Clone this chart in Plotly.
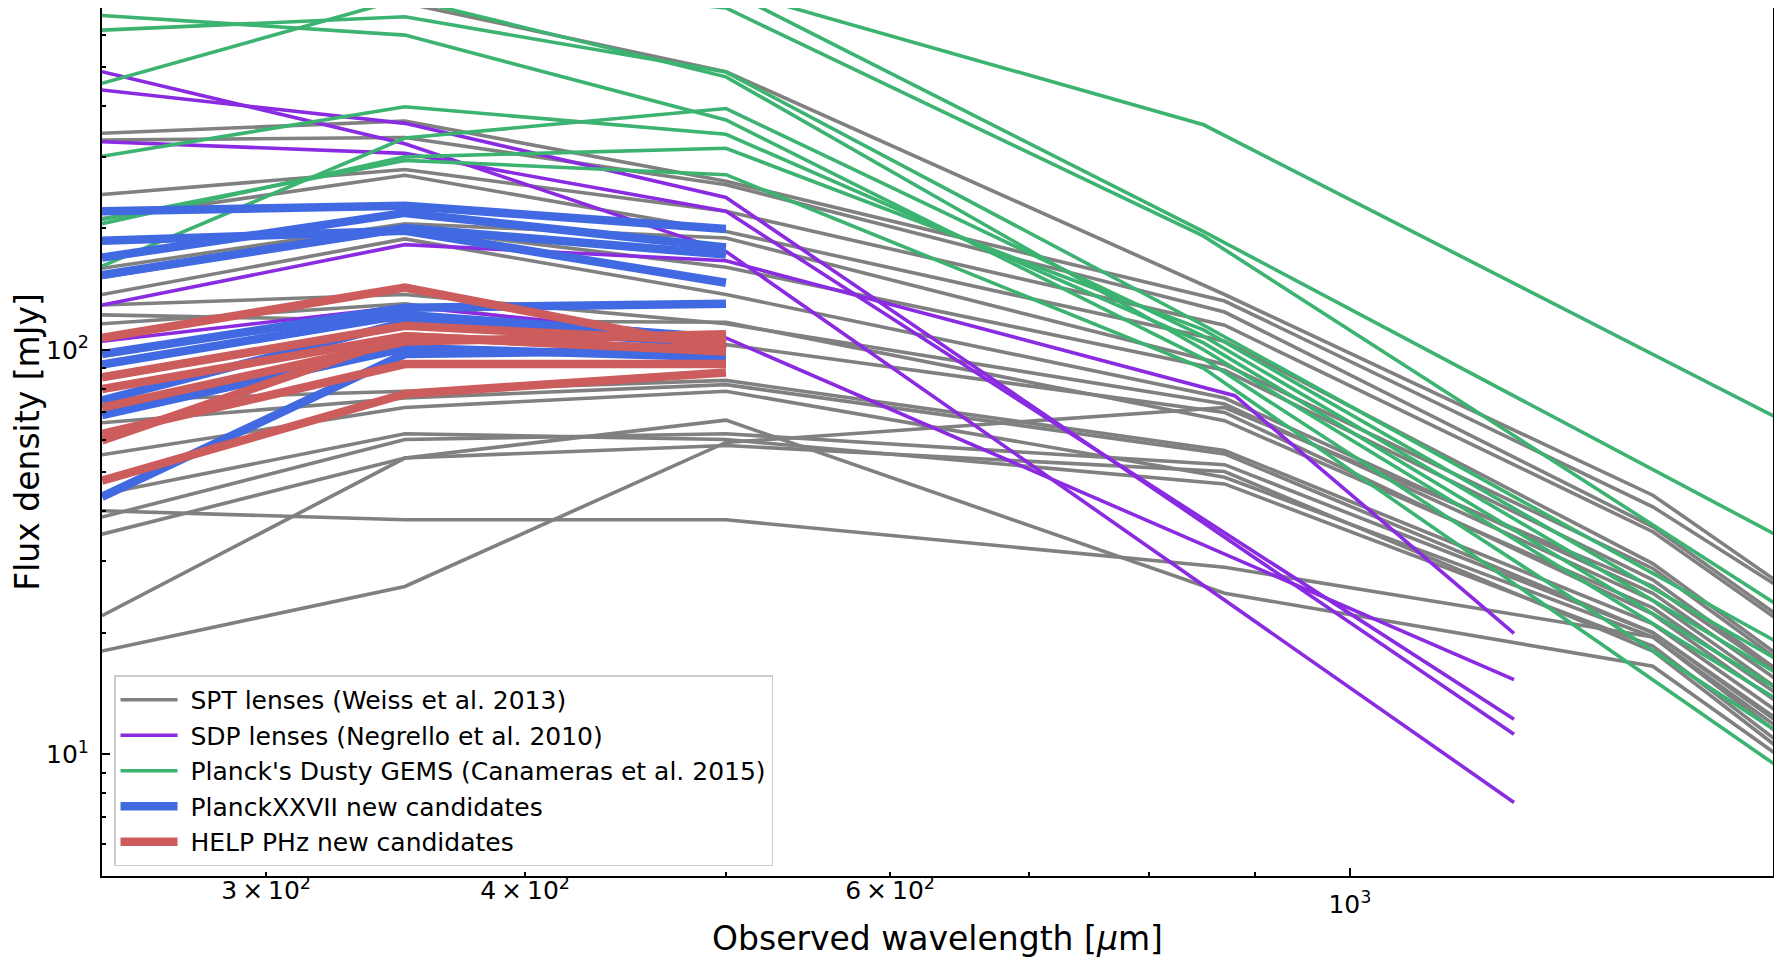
import plotly.graph_objects as go

# wavelength grids [micron] for each sample
spt_wave = [250, 350, 500, 870, 1400, 2000]
sdp_wave = [250, 350, 500, 880, 1200]
gems_wave = [250, 350, 500, 850, 2000]
cand_wave = [250, 350, 500]

# SPT lenses (Weiss et al. 2013), flux densities in mJy
spt_250 = [760, 343, 330, 242, 211, 159, 151, 137, 129, 116, 122, 75, 66, 55, 44, 40, 38.6, 35, 22, 18]
spt_350 = [720, 368, 335, 279, 270, 205, 200, 188, 137, 130, 118, 79, 76, 72, 62, 38, 60, 54, 54, 26]
spt_500 = [487, 261, 256, 220, 196, 189, 160, 137, 116, 103, 117, 84, 82, 79, 60, 38, 62, 58, 67, 59]
spt_870 = [137, 132, 124, 115, 105, 92, 89, 76, 73.5, 70, 66.8, 56.4, 55.3, 48.4, 46.6, 29, 52, 50, 25, 72]
spt_1400 = [43.7, 40.9, 36.5, 35.5, 29.6, 28.8, 27, 25, 24, 22.2, 23, 21, 20, 19.5, 18.5, 19.5, 20, 18, 16.5, 26]
spt_2000 = [12.3, 12.8, 10.0, 9.8, 7.8, 7.6, 7.2, 7.0, 6.6, 6.1, 6.5, 5.8, 5.6, 4.8, 4.6, 5.2, 5.4, 4.4, 4.5, 7.4]

# SDP lenses (Negrello et al. 2010)
sdp_250 = [487, 439, 327, 129, 105]
sdp_350 = [323, 363, 306, 182, 128]
sdp_500 = [175, 238, 220, 166, 107]
sdp_880 = [None, None, None, 77, None]
sdp_1200 = [7.6, 11.2, 12.2, 19.9, 15.3]

# Planck's Dusty GEMS (Canameras et al. 2015)
gems_250 = [900, 850, 800, 671, 617, 456, 301, 161, 205, 210]
gems_350 = [950, 900, 850, 600, 666, 740, 399, 334, 300, 294]
gems_500 = [780, 776, 700, 370, 486, 473, 341, 395, 315, 271]
gems_850 = [360, 196, 191, 95, 115, 100, 104, 108, 112, 90]
gems_2000 = [38.3, 19.2, 11.4, 5.5, 10.2, 6.9, 7.4, 8.2, 9.0, 4.3]

# PlanckXXVII new candidates
pxxvii_250 = [220, 186, 169, 153, 97.6, 92, 75, 69, 43.3]
pxxvii_350 = [227, 197, 218, 200, 127, 122, 117, 101, 97.6]
pxxvii_500 = [199, 146.5, 179, 172, 130, 107, 103, 95.8, 100]

# HELP PHz new candidates
help_250 = [107, 85.5, 80, 72, 62, 59.7, 47.5]
help_350 = [142.6, 114.6, 108, 104.8, 92.2, 108, 77.8]
help_500 = [100, 104.8, 99.4, 109.3, 92.2, 99, 87.9]

FONT = "DejaVu Sans"
THIN = 3.6
THICK = 8.5
NB = "\u00a0"   # small gap between legend line and label
TS = "\u2009"   # thin space around the times sign

fig = go.Figure()


def add_group(name, color, width, waves, rows, xaxis="x"):
    for i, fluxes in enumerate(rows):
        fig.add_trace(go.Scatter(
            x=waves, y=list(fluxes), mode="lines", xaxis=xaxis,
            line=dict(color=color, width=width),
            name=NB + name, legendgroup=name, showlegend=(i == 0),
            connectgaps=True, hoverinfo="skip",
        ))


add_group("SPT lenses (Weiss et al. 2013)", "grey", THIN, spt_wave,
          zip(spt_250, spt_350, spt_500, spt_870, spt_1400, spt_2000))
add_group("SDP lenses (Negrello et al. 2010)", "blueviolet", THIN, sdp_wave,
          zip(sdp_250, sdp_350, sdp_500, sdp_880, sdp_1200))
add_group("Planck's Dusty GEMS (Canameras et al. 2015)", "mediumseagreen", THIN, gems_wave,
          zip(gems_250, gems_350, gems_500, gems_850, gems_2000))
add_group("PlanckXXVII new candidates", "royalblue", THICK, cand_wave,
          zip(pxxvii_250, pxxvii_350, pxxvii_500))
# drawn on the twin x axis (same range) so that its labelled minor ticks render
add_group("HELP PHz new candidates", "indianred", THICK, cand_wave,
          zip(help_250, help_350, help_500), xaxis="x2")

x_range = [2.39794, 3.20412]   # 250 .. 1600 micron
y_range = [0.69897, 2.84510]   # 5 .. 700 mJy

# page body has an 8px margin, so the figure is sized to fit the window
fig.update_layout(
    width=1766, height=950,
    margin=dict(l=94, r=1, t=0, b=82),
    paper_bgcolor="white", plot_bgcolor="white",
    font=dict(family=FONT, color="black", size=25),
    showlegend=True,
    legend=dict(
        x=0.0072, y=0.011, xanchor="left", yanchor="bottom",
        bgcolor="rgba(255,255,255,0.8)", bordercolor="#cccccc", borderwidth=1.5,
        font=dict(family=FONT, size=25), itemwidth=57, tracegroupgap=7,
        traceorder="normal",
    ),
    xaxis=dict(
        type="log", range=x_range, showgrid=False, zeroline=False, automargin=False,
        showline=True, linecolor="black", linewidth=2, mirror=True,
        ticks="inside", ticklen=8, tickwidth=2, tickcolor="black",
        tickvals=[1000], ticktext=["10<sup>3</sup>"], ticklabelstandoff=5,
        minor=dict(tickvals=[500, 700, 800, 900], ticks="inside", ticklen=4,
                   tickwidth=1.5, tickcolor="black"),
        title=dict(text="Observed wavelength [<i>μ</i>m]", font=dict(size=33), standoff=11),
    ),
    xaxis2=dict(
        type="log", range=x_range, overlaying="x", anchor="y", side="bottom",
        showgrid=False, zeroline=False, showline=False, automargin=False,
        ticks="inside", ticklen=4, tickwidth=1.5, tickcolor="black",
        tickvals=[300, 400, 600],
        ticktext=["3" + TS + "×" + TS + "10<sup>2</sup>",
                  "4" + TS + "×" + TS + "10<sup>2</sup>",
                  "6" + TS + "×" + TS + "10<sup>2</sup>"],
        ticklabelstandoff=-3,
    ),
    yaxis=dict(
        type="log", range=y_range, showgrid=False, zeroline=False, automargin=False,
        showline=True, linecolor="black", linewidth=2, mirror=True,
        ticks="inside", ticklen=8, tickwidth=2, tickcolor="black",
        tickvals=[10, 100], ticktext=["10<sup>1</sup>", "10<sup>2</sup>"],
        ticklabelstandoff=6,
        minor=dict(tickvals=[6, 7, 8, 9, 20, 30, 40, 50, 60, 70, 80, 90,
                             200, 300, 400, 500, 600],
                   ticks="inside", ticklen=4, tickwidth=1.5, tickcolor="black"),
        title=dict(text="Flux density [mJy]", font=dict(size=33), standoff=16),
    ),
)

fig.write_html("out.html")
